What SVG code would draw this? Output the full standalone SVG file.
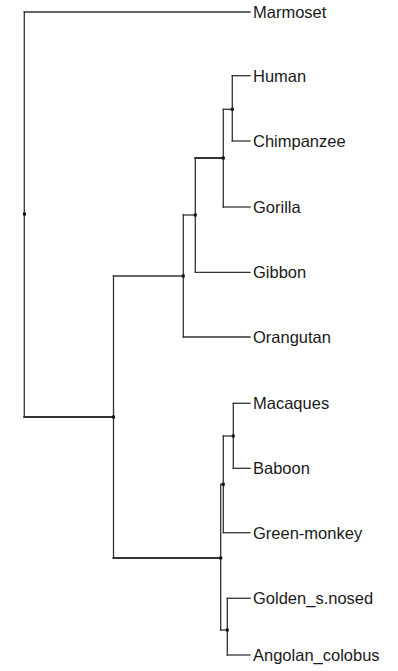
<svg xmlns="http://www.w3.org/2000/svg" width="398" height="671" viewBox="0 0 398 671">
<style>
.e{stroke:#333;stroke-width:1.3;fill:none;stroke-linecap:square}
.t{stroke-width:2}
.lbl{font-family:"Liberation Sans",Arial,sans-serif;font-size:16.5px;fill:#1a1a1a}
.d{fill:#111}
</style>
<rect width="398" height="671" fill="#fff"/>
<g id="connectors">
<path class="e" d="M24.3 12 V417"/>
<path class="e" d="M24.3 12 H250"/>
<path class="e t" d="M24.3 417 H113.5"/>
<path class="e" d="M113.5 276 V558"/>
<path class="e" d="M113.5 276 H183.3"/>
<path class="e t" d="M113.5 558 H220.7"/>
<path class="e" d="M183.3 215 V337"/>
<path class="e" d="M183.3 215 H195.3"/>
<path class="e" d="M183.3 337 H250"/>
<path class="e" d="M195.3 158 V272.3"/>
<path class="e t" d="M195.3 158 H223.3"/>
<path class="e" d="M195.3 272.3 H250"/>
<path class="e" d="M223.3 109.3 V207"/>
<path class="e" d="M223.3 109.3 H232.3"/>
<path class="e" d="M223.3 207 H250"/>
<path class="e" d="M232.3 75.7 V141"/>
<path class="e" d="M232.3 75.7 H250"/>
<path class="e" d="M232.3 141 H250"/>
<path class="e" d="M220.7 484.3 V630"/>
<path class="e" d="M220.7 484.3 H223.3"/>
<path class="e" d="M220.7 630 H227.3"/>
<path class="e" d="M223.3 436 V532.7"/>
<path class="e" d="M223.3 436 H233.3"/>
<path class="e" d="M223.3 532.7 H250"/>
<path class="e" d="M233.3 403.3 V468.3"/>
<path class="e" d="M233.3 403.3 H250"/>
<path class="e" d="M233.3 468.3 H250"/>
<path class="e" d="M227.3 598.3 V655"/>
<path class="e" d="M227.3 598.3 H250"/>
<path class="e" d="M227.3 655 H250"/>
</g>
<g id="internal-nodes">
<rect class="d" x="23" y="212.5" width="3" height="3"/>
<rect class="d" x="112" y="415.5" width="3" height="3"/>
<rect class="d" x="181.8" y="274.5" width="3" height="3"/>
<rect class="d" x="193.8" y="213.5" width="3" height="3"/>
<rect class="d" x="221.8" y="156.5" width="3" height="3"/>
<rect class="d" x="230.8" y="107.8" width="3" height="3"/>
<rect class="d" x="219.2" y="556.5" width="3" height="3"/>
<rect class="d" x="221.8" y="482.8" width="3" height="3"/>
<rect class="d" x="231.8" y="434.5" width="3" height="3"/>
<rect class="d" x="225.8" y="628.5" width="3" height="3"/>
</g>
<g id="Marmoset"><text class="lbl" x="253" y="18">Marmoset</text></g>
<g id="Human"><text class="lbl" x="253" y="81.7">Human</text></g>
<g id="Chimpanzee"><text class="lbl" x="253" y="147">Chimpanzee</text></g>
<g id="Gorilla"><text class="lbl" x="253" y="213">Gorilla</text></g>
<g id="Gibbon"><text class="lbl" x="253" y="278.3">Gibbon</text></g>
<g id="Orangutan"><text class="lbl" x="253" y="343.3">Orangutan</text></g>
<g id="Macaques"><text class="lbl" x="253" y="409.3">Macaques</text></g>
<g id="Baboon"><text class="lbl" x="253" y="474.3">Baboon</text></g>
<g id="Green-monkey"><text class="lbl" x="253" y="538.7">Green-monkey</text></g>
<g id="Golden_s.nosed"><text class="lbl" x="253" y="604.3">Golden_s.nosed</text></g>
<g id="Angolan_colobus"><text class="lbl" x="253" y="661">Angolan_colobus</text></g>
</svg>
